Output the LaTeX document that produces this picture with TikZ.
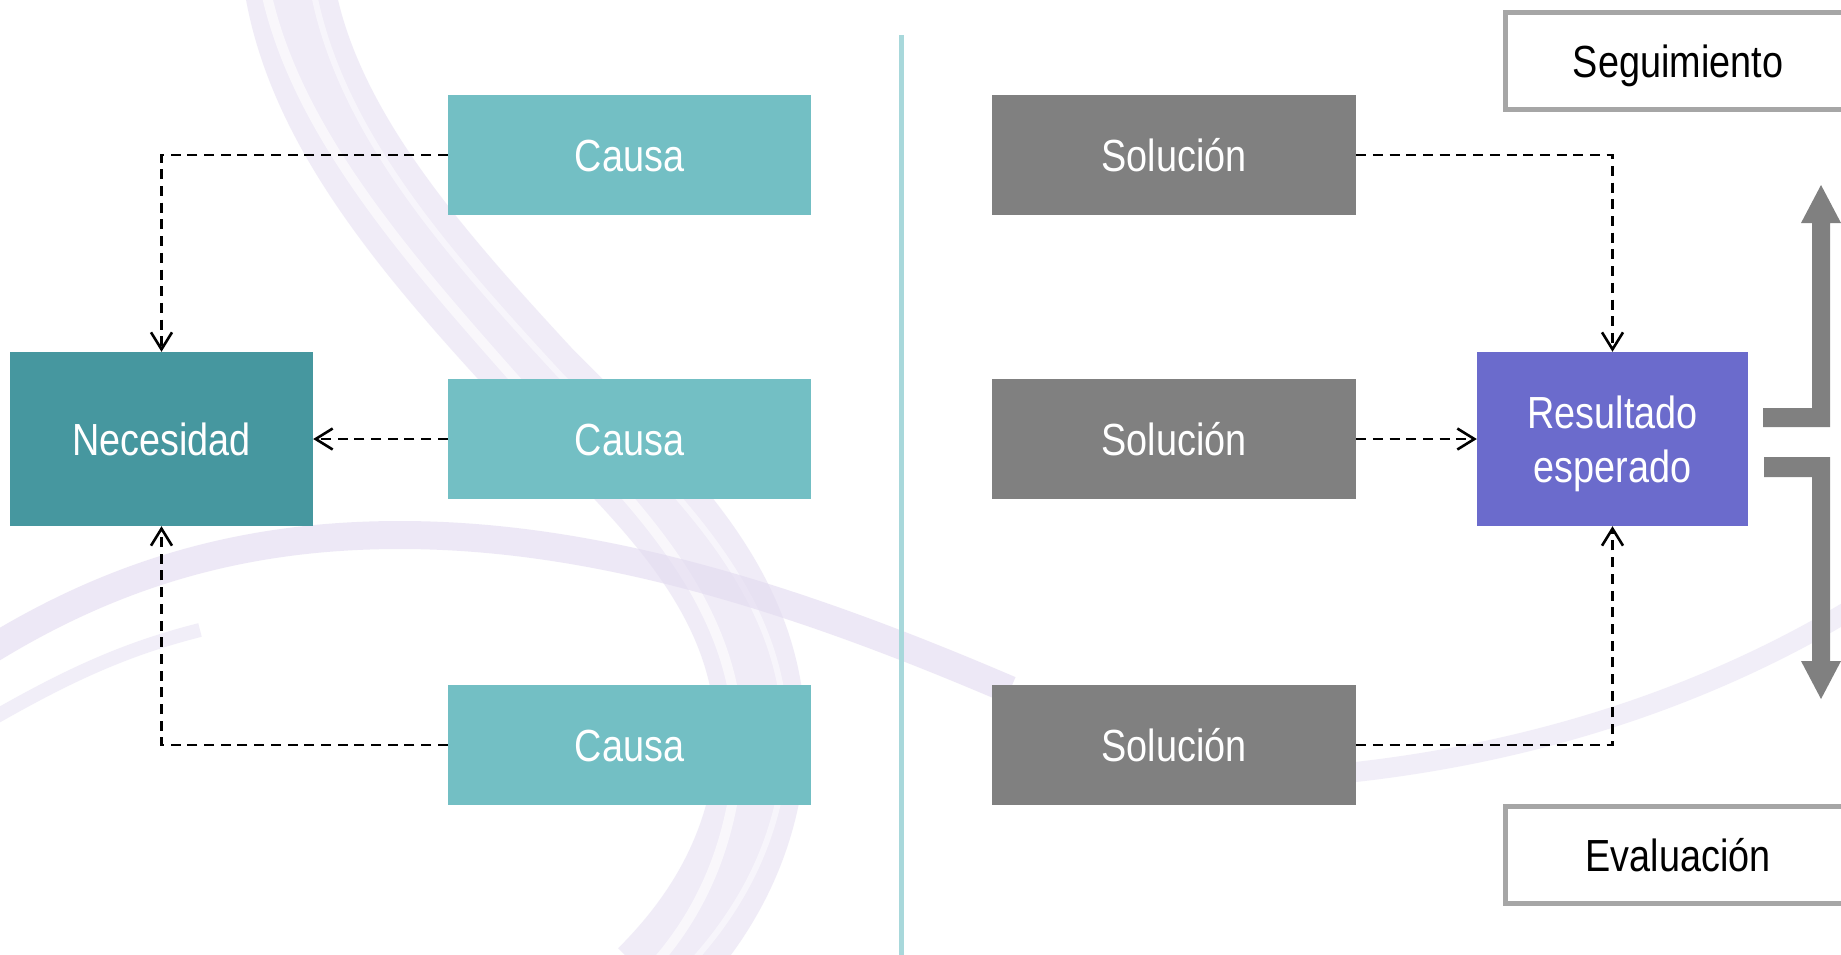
\documentclass[tikz,border=0pt]{standalone}
\usepackage{fontspec}
\setmainfont{Liberation Sans}[FakeStretch=0.84]
\usetikzlibrary{arrows.meta}
\definecolor{causa}{HTML}{73BFC4}
\definecolor{neces}{HTML}{46979F}
\definecolor{solu}{HTML}{808080}
\definecolor{resul}{HTML}{6B6BCC}
\definecolor{divid}{HTML}{A8D8DB}
\definecolor{framec}{HTML}{A6A6A6}
\definecolor{swoosh}{HTML}{E2DAF0}
\definecolor{swooshb}{HTML}{EEEAF7}
\begin{document}
\begin{tikzpicture}[x=1pt,y=-1pt,
  box/.style={rectangle, inner sep=0pt, text=white, font=\fontsize{45}{54}\selectfont, align=center, text height=32pt, text depth=0pt},
  causebox/.style={box, fill=causa, minimum width=363pt, minimum height=120pt},
  solbox/.style={box, fill=solu, minimum width=364pt, minimum height=120pt},
  framebox/.style={box, draw=framec, line width=4.5pt, fill=white, text=black, minimum width=345.5pt, minimum height=97pt},
  conn/.style={draw=black, line width=2.7pt, dash pattern=on 10pt off 6.7pt, -{Straight Barb[length=17pt,width=21pt,line width=2.6pt]}},
  bigarrow/.style={fill=solu, draw=none}]
\clip (0,0) rectangle (1841,954);
\fill[white] (0,0) rectangle (1841,954);
% background swooshes
\draw[swoosh, line width=90pt, opacity=0.5, line cap=butt]
  (287,-30) .. controls (305,120) and (420,250) .. (540,380)
  .. controls (660,500) and (770,600) .. (760,760)
  .. controls (750,860) and (700,930) .. (650,980);
\draw[white, line width=10pt, opacity=0.6]
  (262,-30) .. controls (285,120) and (405,255) .. (520,385)
  .. controls (640,505) and (745,610) .. (738,760)
  .. controls (730,860) and (690,930) .. (640,980);
\draw[white, line width=6pt, opacity=0.5]
  (310,-30) .. controls (330,120) and (440,245) .. (560,375)
  .. controls (680,495) and (795,600) .. (785,760)
  .. controls (775,860) and (725,930) .. (675,980);
\draw[swoosh, line width=28pt, opacity=0.6]
  (-10,650) .. controls (120,570) and (250,535) .. (400,535)
  .. controls (600,535) and (800,600) .. (1010,690);
\draw[swooshb, line width=20pt, opacity=0.8]
  (1250,780) .. controls (1500,770) and (1700,700) .. (1850,610);
\draw[swooshb, line width=14pt, opacity=0.8]
  (-10,720) .. controls (60,680) and (120,650) .. (200,630);
% divider
\draw[divid, line width=5pt] (901.5,35) -- (901.5,960);
% left side
\node[causebox] (c1) at (629.5,155) {Causa};
\node[causebox] (c2) at (629.5,439) {Causa};
\node[causebox] (c3) at (629.5,745) {Causa};
\node[box, fill=neces, minimum width=303pt, minimum height=174pt] (nec) at (161.5,439) {Necesidad};
% right side
\node[solbox] (s1) at (1174,155) {Solución};
\node[solbox] (s2) at (1174,439) {Solución};
\node[solbox] (s3) at (1174,745) {Solución};
\node[box, fill=resul, minimum width=271pt, minimum height=174pt, text height=86pt, text depth=0pt] (res) at (1612.5,439) {Resultado\\esperado};
\node[framebox] (seg) at (1678,61) {Seguimiento};
\node[framebox] (eva) at (1678,855) {Evaluación};
% connectors
\draw[conn] (c1.west) -| (nec.north);
\draw[conn] (c2.west) -- (nec.east);
\draw[conn] (c3.west) -| (nec.south);
\draw[conn] (s1.east) -| (res.north);
\draw[conn] (s2.east) -- (res.west);
\draw[conn] (s3.east) -| (res.south);
% bent arrows
\fill[bigarrow] (1763,408) -- (1812,408) -- (1812,223) -- (1801,223) -- (1821,185)
  -- (1841,223) -- (1830,223) -- (1830,427) -- (1763,427) -- cycle;
\fill[bigarrow] (1764,457) -- (1830,457) -- (1830,661) -- (1841,661) -- (1821,699)
  -- (1801,661) -- (1812,661) -- (1812,477) -- (1764,477) -- cycle;
\end{tikzpicture}
\end{document}
